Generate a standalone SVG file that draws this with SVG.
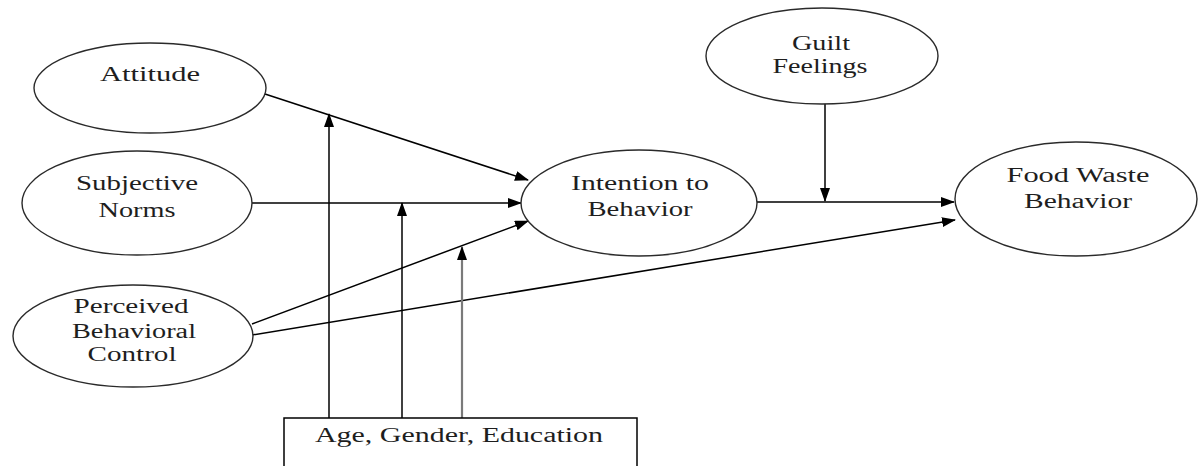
<svg xmlns="http://www.w3.org/2000/svg" width="1198" height="466" viewBox="0 0 1198 466">
<defs>
<marker id="ah" markerUnits="userSpaceOnUse" markerWidth="14" markerHeight="10" refX="13" refY="5" orient="auto">
<path d="M0,0 L14,5 L0,10 Z" fill="#000"/>
</marker>
</defs>
<style>
.node ellipse{fill:#fff;stroke:#2a2a2a;stroke-width:1.4}
text{font-family:"Liberation Serif","Times New Roman",serif;font-size:20px;fill:#1e1e1e;text-anchor:middle}
.c line{stroke:#000;stroke-width:1.5;marker-end:url(#ah)}
.c line.g{stroke:#7a7a7a;stroke-width:2.2}
</style>
<rect width="1198" height="466" fill="#fff"/>
<g id="connectors" class="c">
<line x1="265" y1="94" x2="528" y2="180"/>
<line x1="252" y1="203" x2="521" y2="203"/>
<line x1="252" y1="324" x2="528" y2="221"/>
<line x1="252" y1="335" x2="955" y2="220"/>
<line x1="757" y1="202" x2="954" y2="202"/>
<line x1="825" y1="103" x2="825" y2="201"/>
<line x1="329" y1="418" x2="329" y2="114"/>
<line x1="402" y1="418" x2="402" y2="203"/>
<line class="g" x1="462" y1="418" x2="462" y2="247"/>
</g>
<g id="attitude" class="node">
<ellipse cx="150" cy="88" rx="116" ry="45"/>
<text x="150" y="81" textLength="100" lengthAdjust="spacingAndGlyphs">Attitude</text>
</g>
<g id="subjective-norms" class="node">
<ellipse cx="137" cy="203" rx="115" ry="52"/>
<text x="137" y="190" textLength="122" lengthAdjust="spacingAndGlyphs">Subjective</text>
<text x="137" y="217" textLength="77" lengthAdjust="spacingAndGlyphs">Norms</text>
</g>
<g id="pbc" class="node">
<ellipse cx="133" cy="336" rx="120" ry="51"/>
<text x="131" y="313" textLength="115" lengthAdjust="spacingAndGlyphs">Perceived</text>
<text x="134" y="338" textLength="124" lengthAdjust="spacingAndGlyphs">Behavioral</text>
<text x="132" y="361" textLength="89" lengthAdjust="spacingAndGlyphs">Control</text>
</g>
<g id="intention" class="node">
<ellipse cx="639" cy="203" rx="118" ry="53"/>
<text x="640" y="190" textLength="138" lengthAdjust="spacingAndGlyphs">Intention to</text>
<text x="640" y="216" textLength="105" lengthAdjust="spacingAndGlyphs">Behavior</text>
</g>
<g id="guilt" class="node">
<ellipse cx="822" cy="56" rx="116" ry="48"/>
<text x="821" y="50" textLength="58" lengthAdjust="spacingAndGlyphs">Guilt</text>
<text x="820" y="73" textLength="95" lengthAdjust="spacingAndGlyphs">Feelings</text>
</g>
<g id="food-waste" class="node">
<ellipse cx="1076" cy="199" rx="121" ry="57"/>
<text x="1078" y="182" textLength="143" lengthAdjust="spacingAndGlyphs">Food Waste</text>
<text x="1078" y="208" textLength="108" lengthAdjust="spacingAndGlyphs">Behavior</text>
</g>
<g id="demographics">
<rect x="284" y="418" width="353" height="60" fill="#fff" stroke="#000" stroke-width="1.5"/>
<text x="459" y="442" textLength="288" lengthAdjust="spacingAndGlyphs">Age, Gender, Education</text>
</g>
</svg>
